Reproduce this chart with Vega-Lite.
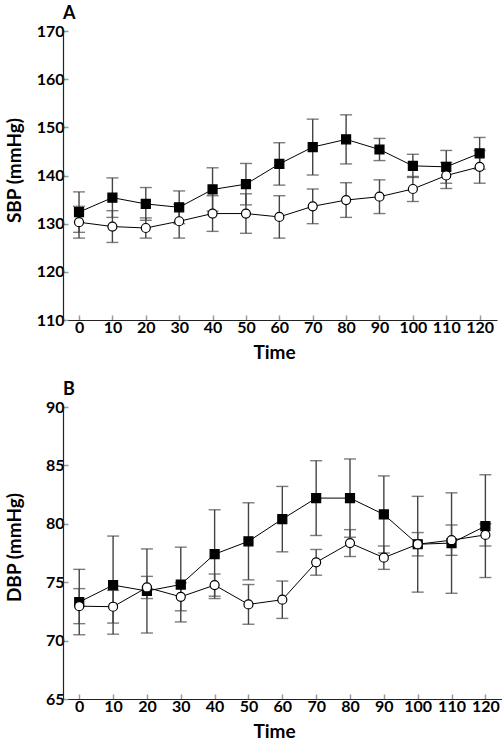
{
  "$schema": "https://vega.github.io/schema/vega-lite/v6.json",
  "padding": {"left": 5, "top": 5, "right": 0, "bottom": 0},
  "bounds": "flush",
  "spacing": 87,
  "datasets": {
    "sbp": [
      {"time": 0, "group": "treated", "mean": 132.4, "err": 4.2},
      {"time": 10, "group": "treated", "mean": 135.4, "err": 4.1},
      {"time": 20, "group": "treated", "mean": 134.1, "err": 3.4},
      {"time": 30, "group": "treated", "mean": 133.4, "err": 3.4},
      {"time": 40, "group": "treated", "mean": 137.1, "err": 4.5},
      {"time": 50, "group": "treated", "mean": 138.2, "err": 4.3},
      {"time": 60, "group": "treated", "mean": 142.4, "err": 4.4},
      {"time": 70, "group": "treated", "mean": 145.9, "err": 5.8},
      {"time": 80, "group": "treated", "mean": 147.5, "err": 5.1},
      {"time": 90, "group": "treated", "mean": 145.4, "err": 2.3},
      {"time": 100, "group": "treated", "mean": 142.0, "err": 2.4},
      {"time": 110, "group": "treated", "mean": 141.8, "err": 3.4},
      {"time": 120, "group": "treated", "mean": 144.6, "err": 3.3},
      {"time": 0, "group": "control", "mean": 130.3, "err": 3.3},
      {"time": 10, "group": "control", "mean": 129.4, "err": 3.3},
      {"time": 20, "group": "control", "mean": 129.1, "err": 2.1},
      {"time": 30, "group": "control", "mean": 130.5, "err": 3.5},
      {"time": 40, "group": "control", "mean": 132.1, "err": 3.7},
      {"time": 50, "group": "control", "mean": 132.1, "err": 4.1},
      {"time": 60, "group": "control", "mean": 131.4, "err": 4.4},
      {"time": 70, "group": "control", "mean": 133.6, "err": 3.6},
      {"time": 80, "group": "control", "mean": 134.9, "err": 3.6},
      {"time": 90, "group": "control", "mean": 135.6, "err": 3.5},
      {"time": 100, "group": "control", "mean": 137.2, "err": 2.6},
      {"time": 110, "group": "control", "mean": 140.0, "err": 2.7},
      {"time": 120, "group": "control", "mean": 141.8, "err": 3.4}
    ],
    "dbp": [
      {"time": 0, "group": "treated", "mean": 73.3, "err": 2.8},
      {"time": 10, "group": "treated", "mean": 74.75, "err": 4.2},
      {"time": 20, "group": "treated", "mean": 74.25, "err": 3.6},
      {"time": 30, "group": "treated", "mean": 74.8, "err": 3.2},
      {"time": 40, "group": "treated", "mean": 77.4, "err": 3.8},
      {"time": 50, "group": "treated", "mean": 78.5, "err": 3.3},
      {"time": 60, "group": "treated", "mean": 80.4, "err": 2.8},
      {"time": 70, "group": "treated", "mean": 82.2, "err": 3.2},
      {"time": 80, "group": "treated", "mean": 82.2, "err": 3.35},
      {"time": 90, "group": "treated", "mean": 80.8, "err": 3.3},
      {"time": 100, "group": "treated", "mean": 78.25, "err": 4.1},
      {"time": 110, "group": "treated", "mean": 78.35, "err": 4.3},
      {"time": 120, "group": "treated", "mean": 79.8, "err": 4.4},
      {"time": 0, "group": "control", "mean": 72.95, "err": 1.5},
      {"time": 10, "group": "control", "mean": 72.9, "err": 1.4},
      {"time": 20, "group": "control", "mean": 74.55, "err": 0.95},
      {"time": 30, "group": "control", "mean": 73.75, "err": 1.2},
      {"time": 40, "group": "control", "mean": 74.75, "err": 0.95},
      {"time": 50, "group": "control", "mean": 73.1, "err": 1.7},
      {"time": 60, "group": "control", "mean": 73.5, "err": 1.6},
      {"time": 70, "group": "control", "mean": 76.7, "err": 1.1},
      {"time": 80, "group": "control", "mean": 78.35, "err": 1.15},
      {"time": 90, "group": "control", "mean": 77.1, "err": 1.0},
      {"time": 100, "group": "control", "mean": 78.25, "err": 1.0},
      {"time": 110, "group": "control", "mean": 78.6, "err": 1.3},
      {"time": 120, "group": "control", "mean": 79.05, "err": 0.95}
    ]
  },
  "vconcat": [
    {
      "width": 434,
      "height": 289,
      "title": {"text": "A", "anchor": "start", "offset": 0},
      "data": {"name": "sbp"},
      "encoding": {
        "x": {
          "field": "time", "type": "quantitative",
          "scale": {"domain": [-4.8, 125.2], "nice": false, "zero": false},
          "axis": {"title": "Time", "values": [0, 10, 20, 30, 40, 50, 60, 70, 80, 90, 100, 110, 120], "titleX": 211}
        }
      },
      "layer": [
        {
          "mark": {"type": "errorbar", "color": "#444", "thickness": 1.4, "ticks": {"size": 12, "thickness": 1.4, "color": "#444"}},
          "encoding": {
            "y": {
              "field": "mean", "type": "quantitative",
              "scale": {"domain": [110, 170], "nice": false, "zero": false},
              "axis": {"title": "SBP (mmHg)", "values": [110, 120, 130, 140, 150, 160, 170], "titleX": -39, "titleY": 139}
            },
            "yError": {"field": "err"},
            "detail": {"field": "group"}
          }
        },
        {
          "mark": {"type": "line", "color": "black", "strokeWidth": 1},
          "encoding": {
            "y": {"field": "mean", "type": "quantitative"},
            "detail": {"field": "group"}
          }
        },
        {
          "mark": {"type": "point", "size": 81, "stroke": "black", "strokeWidth": 1.2, "opacity": 1, "fillOpacity": 1},
          "encoding": {
            "y": {"field": "mean", "type": "quantitative"},
            "shape": {"field": "group", "scale": {"domain": ["treated", "control"], "range": ["square", "circle"]}, "legend": null},
            "fill": {"field": "group", "scale": {"domain": ["treated", "control"], "range": ["black", "white"]}, "legend": null}
          }
        }
      ]
    },
    {
      "width": 441,
      "height": 292,
      "title": {"text": "B", "anchor": "start", "offset": 0},
      "data": {"name": "dbp"},
      "encoding": {
        "x": {
          "field": "time", "type": "quantitative",
          "scale": {"domain": [-4.8, 125.5], "nice": false, "zero": false},
          "axis": {"title": "Time", "values": [0, 10, 20, 30, 40, 50, 60, 70, 80, 90, 100, 110, 120], "titleX": 211}
        }
      },
      "layer": [
        {
          "mark": {"type": "errorbar", "color": "#444", "thickness": 1.4, "ticks": {"size": 12, "thickness": 1.4, "color": "#444"}},
          "encoding": {
            "y": {
              "field": "mean", "type": "quantitative",
              "scale": {"domain": [65, 90], "nice": false, "zero": false},
              "axis": {"title": "DBP (mmHg)", "values": [65, 70, 75, 80, 85, 90], "titleX": -39, "titleY": 140}
            },
            "yError": {"field": "err"},
            "detail": {"field": "group"}
          }
        },
        {
          "mark": {"type": "line", "color": "black", "strokeWidth": 1},
          "encoding": {
            "y": {"field": "mean", "type": "quantitative"},
            "detail": {"field": "group"}
          }
        },
        {
          "mark": {"type": "point", "size": 81, "stroke": "black", "strokeWidth": 1.2, "opacity": 1, "fillOpacity": 1},
          "encoding": {
            "y": {"field": "mean", "type": "quantitative"},
            "shape": {"field": "group", "scale": {"domain": ["treated", "control"], "range": ["square", "circle"]}, "legend": null},
            "fill": {"field": "group", "scale": {"domain": ["treated", "control"], "range": ["black", "white"]}, "legend": null}
          }
        }
      ]
    }
  ],
  "config": {
    "view": {"stroke": null},
    "title": {"font": "Lato", "fontSize": 18, "fontWeight": "bold", "color": "black", "frame": "group"},
    "axis": {
      "grid": false,
      "domainColor": "#222",
      "domainWidth": 1.2,
      "tickColor": "#999",
      "tickWidth": 1.5,
      "tickSize": -5,
      "labelFont": "Lato",
      "labelFontWeight": "bold",
      "labelFontSize": 16,
      "labelColor": "black",
      "labelPadding": 4,
      "titleFont": "Lato",
      "titleFontWeight": "bold",
      "titleFontSize": 19,
      "titleColor": "black",
      "titlePadding": 8
    }
  }
}
